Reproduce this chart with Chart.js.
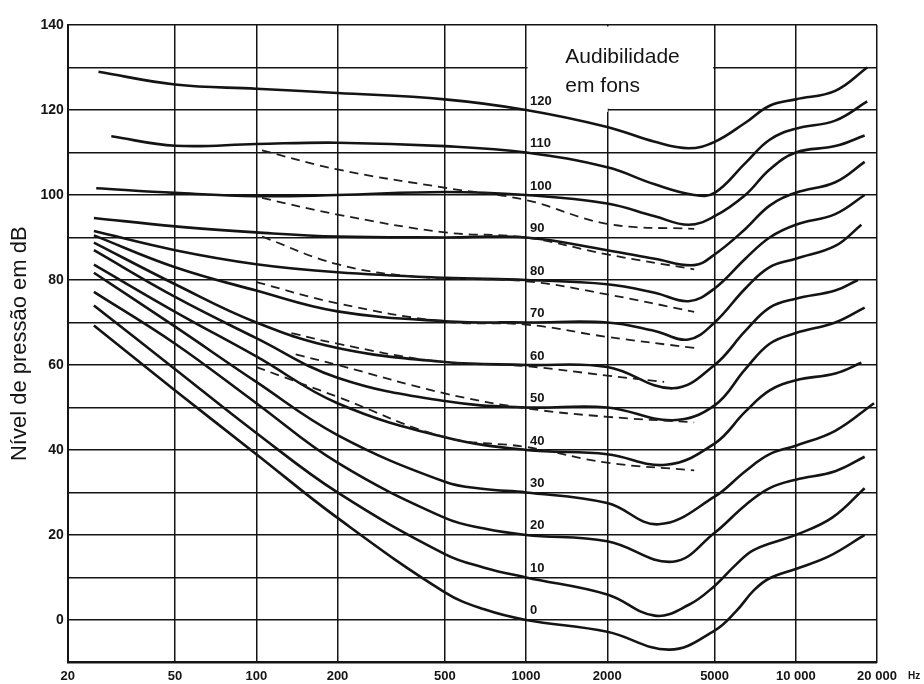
<!DOCTYPE html>
<html>
<head>
<meta charset="utf-8">
<title>Audibilidade em fons</title>
<script src="https://cdn.jsdelivr.net/npm/chart.js@4.4.0/dist/chart.umd.min.js"></script>
<style>
  html, body { margin: 0; padding: 0; background: #fff; }
  #wrap { width: 924px; height: 684px; }
</style>
</head>
<body>
<div id="wrap"><canvas id="loudnessChart" width="924" height="684"></canvas></div>
<script>
// Curvas de igual audibilidade: [frequência Hz, nível dB]
const phons = [0, 10, 20, 30, 40, 50, 60, 70, 80, 90, 100, 110, 120];

const curve0 = [[25, 69.3], [50, 54], [100, 39], [200, 24], [500, 6.5], [700, 2.5], [1000, 0], [2000, -2.8], [3400, -7], [5000, -2.5], [6000, 2], [7000, 7], [8000, 9.8], [10000, 12], [13300, 15], [18000, 20]];
const curve10 = [[25, 74], [50, 59], [100, 44], [200, 30], [500, 15.5], [700, 12.3], [1000, 10], [2000, 6], [3000, 1], [4000, 3.5], [5000, 8], [6000, 13], [7000, 16.5], [10000, 20], [13600, 24], [18000, 31]];
const curve20 = [[25, 77.2], [50, 65], [100, 51], [200, 37], [500, 24], [700, 21.5], [1000, 20], [2000, 18.5], [3500, 13.7], [5000, 20.5], [6500, 27], [8000, 31], [10000, 33], [14000, 35], [18000, 38.4]];
const curve30 = [[25, 81.7], [50, 69], [100, 56], [200, 43.5], [500, 32.5], [700, 30.8], [1000, 30], [2000, 27.5], [3100, 22.5], [5000, 29], [6500, 35], [8000, 39], [10000, 41], [14000, 44.5], [19500, 51]];
const curve40 = [[25, 83.6], [50, 72.5], [100, 62], [200, 51], [500, 43], [1000, 40], [2000, 39], [3300, 36.5], [5000, 41.5], [6500, 49], [8000, 54], [10000, 56.4], [14000, 58], [17500, 60.5]];
const curve50 = [[25, 87], [50, 76], [100, 66.3], [200, 57], [500, 51.5], [1000, 50], [2000, 50], [3500, 47], [5000, 50.5], [6500, 59], [8000, 65], [10000, 67.5], [14000, 70], [18000, 73.5]];
const curve60 = [[25, 88.8], [50, 79], [100, 70], [200, 64], [500, 60.7], [1000, 60], [2000, 59.5], [3500, 54.5], [5000, 60], [6500, 68], [8000, 73.5], [10000, 75.6], [14000, 77.5], [17000, 80]];
const curve70 = [[25, 90.5], [50, 83], [100, 77.5], [200, 72.6], [500, 70.3], [1000, 70], [2000, 70], [3000, 68], [4000, 66], [5000, 70], [6500, 78], [8000, 83], [10000, 85], [14000, 88], [17500, 93]];
const curve80 = [[25, 91.5], [50, 87], [100, 83.7], [200, 81.8], [500, 80.5], [1000, 80], [2000, 79], [3000, 77], [4000, 75], [5000, 78], [6500, 85], [8000, 90], [10000, 93], [14000, 95.5], [18000, 100]];
const curve90 = [[25, 94.6], [50, 92.6], [100, 91.2], [200, 90.2], [500, 90], [1000, 90], [2000, 87], [3000, 85], [4200, 83.5], [5000, 86], [6500, 92], [8000, 97.5], [10000, 100.5], [14000, 103], [18000, 107.8]];
const curve100 = [[25.5, 101.6], [50, 100.5], [100, 99.7], [200, 100], [500, 100.7], [1000, 100], [2000, 98], [3000, 95], [4000, 93], [5000, 95], [6500, 100], [8000, 106], [10000, 110], [14000, 111.5], [18000, 114]];
const curve110 = [[29, 113.8], [50, 111.6], [100, 112], [200, 112.3], [500, 111.5], [1000, 110], [2000, 106.5], [3000, 102.5], [4200, 100], [5000, 100.5], [6500, 107.5], [8000, 113], [10000, 115.6], [14000, 117.5], [18400, 122]];
const curve120 = [[26, 129], [50, 126], [100, 125], [200, 124], [500, 122.5], [1000, 120], [2000, 116], [3000, 112.5], [4000, 111], [5000, 112.5], [6500, 117], [8000, 121], [10000, 122.5], [14000, 124.5], [18400, 130]];

// curvas tracejadas
const dashA = [[105, 110.5], [200, 106], [500, 101.7], [1000, 98.8], [2000, 93.2], [4200, 92]];
const dashB = [[105, 99.3], [200, 95.4], [500, 91.2], [1000, 90], [2000, 86], [4200, 82.5]];
const dashC = [[105, 90.2], [200, 83.7], [400, 80.7], [1000, 79.7], [2000, 76.6], [4200, 72.5]];
const dashD = [[100, 79.5], [200, 74.5], [500, 70.2], [1000, 69.5], [2000, 66.6], [4200, 64]];
const dashE = [[135, 67.5], [200, 65], [450, 61], [1000, 59.7], [2000, 57.5], [3250, 56]];
const dashF = [[140, 62.5], [200, 60], [500, 53.3], [1000, 49.8], [2000, 47.8], [4200, 46.5]];
const dashG = [[100, 59.5], [200, 52.5], [500, 43], [1000, 40.7], [2000, 37], [4200, 35.2]];

const xTickValues = [20, 50, 100, 200, 500, 1000, 2000, 5000, 10000, 20000];
const xTickLabels = ["20", "50", "100", "200", "500", "1000", "2000", "5000", "10 000", "20 000"];

const solidCurves = [curve0, curve10, curve20, curve30, curve40, curve50, curve60, curve70, curve80, curve90, curve100, curve110, curve120];
const dashedCurves = [dashA, dashB, dashC, dashD, dashE, dashF, dashG];

const INK = "#141414";
const FONT = "'Liberation Sans', Arial, sans-serif";
Chart.defaults.font.family = FONT;
Chart.defaults.color = INK;

const toPoints = (pairs) => pairs.map(([x, y]) => ({ x, y }));

const datasets = [
  ...dashedCurves.map((c) => ({
    data: toPoints(c),
    borderColor: "#1e1e1e",
    borderWidth: 1.8,
    borderDash: [9, 6],
    pointRadius: 0,
    tension: 0.4,
  })),
  ...solidCurves.map((c) => ({
    data: toPoints(c),
    borderColor: INK,
    borderWidth: 2.6,
    pointRadius: 0,
    tension: 0.4,
  })),
];

// white label box, curve numbers and the "Hz" unit
const paperDecor = {
  id: "paperDecor",
  beforeDatasetsDraw(chart) {
    const { ctx, scales: { x, y } } = chart;
    const x1 = x.getPixelForValue(1000);
    const x2 = x.getPixelForValue(2000);
    const x5 = x.getPixelForValue(5000);
    const yTop = y.getPixelForValue(140);
    const y120 = y.getPixelForValue(120);
    ctx.save();
    ctx.fillStyle = "#fff";
    ctx.fillRect(x1 + 1.5, yTop + 1.5, x5 - x1 - 3, y120 - yTop - 3);
    ctx.fillRect(x1 + 1.5, y120 - 2, x2 - x1 - 1, 4);
    ctx.restore();
  },
  afterDatasetsDraw(chart) {
    const { ctx, scales: { x, y }, chartArea } = chart;
    const x1 = x.getPixelForValue(1000);
    const x5 = x.getPixelForValue(5000);
    ctx.save();
    ctx.fillStyle = INK;
    ctx.font = `bold 13px ${FONT}`;
    ctx.textAlign = "left";
    ctx.textBaseline = "middle";
    phons.forEach((p) => {
      ctx.fillText(String(p), x1 + 4, y.getPixelForValue(p) - 9);
    });

    ctx.font = `21px ${FONT}`;
    ctx.textBaseline = "alphabetic";
    const tx = (x1 + x5) / 2 - 55;
    ctx.fillText("Audibilidade", tx, chartArea.top + 38);
    ctx.fillText("em fons", tx, chartArea.top + 67);

    ctx.font = `bold 10px ${FONT}`;
    ctx.textBaseline = "middle";
    ctx.fillText("Hz", chartArea.right + 31, chartArea.bottom + 14);
    ctx.restore();
  },
};

new Chart(document.getElementById("loudnessChart"), {
  type: "line",
  data: { datasets },
  plugins: [paperDecor],
  options: {
    responsive: false,
    animation: false,
    devicePixelRatio: 1,
    layout: { padding: { left: 2, right: 47, top: 25, bottom: -6 } },
    plugins: {
      legend: { display: false },
      tooltip: { enabled: false },
    },
    scales: {
      x: {
        type: "logarithmic",
        min: 20,
        max: 20000,
        afterBuildTicks: (scale) => {
          scale.ticks = xTickValues.map((v) => ({ value: v }));
        },
        ticks: {
          autoSkip: false,
          maxRotation: 0,
          minRotation: 0,
          padding: 6,
          font: { size: 13, weight: "bold" },
          callback: (value, index) => xTickLabels[index],
        },
        grid: { color: INK, lineWidth: 1.5, drawTicks: false },
        border: { color: INK, width: 2 },
      },
      y: {
        type: "linear",
        min: -10,
        max: 140,
        ticks: {
          stepSize: 10,
          padding: 4,
          font: { size: 14, weight: "bold" },
          callback: (value) => (value >= 0 && value % 20 === 0 ? String(value) : ""),
        },
        grid: { color: INK, lineWidth: 1.5, drawTicks: false },
        border: { color: INK, width: 2 },
        title: {
          display: true,
          text: "Nível de pressão em dB",
          font: { size: 22 },
          padding: { top: 5, bottom: 3 },
        },
      },
    },
  },
});
</script>
</body>
</html>
